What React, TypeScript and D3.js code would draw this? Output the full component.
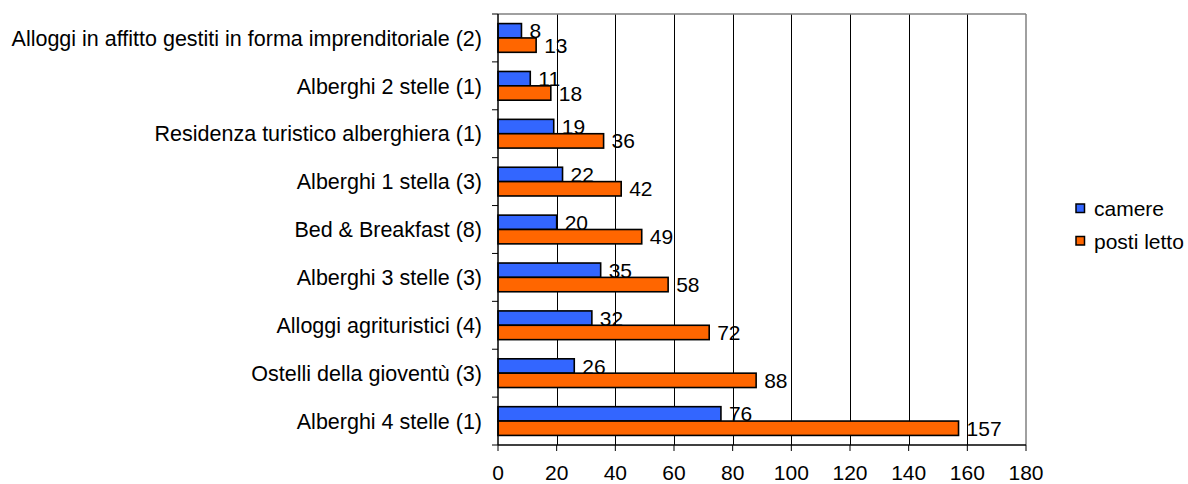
import React from "react";
import * as d3 from "d3";

const categories = [
  "Alloggi in affitto gestiti in forma imprenditoriale (2)",
  "Alberghi 2 stelle (1)",
  "Residenza turistico alberghiera (1)",
  "Alberghi 1 stella (3)",
  "Bed & Breakfast (8)",
  "Alberghi 3 stelle (3)",
  "Alloggi agrituristici (4)",
  "Ostelli della gioventù (3)",
  "Alberghi 4 stelle (1)",
];
const camere = [8, 11, 19, 22, 20, 35, 32, 26, 76];
const postiLetto = [13, 18, 36, 42, 49, 58, 72, 88, 157];
const seriesNames = ["camere", "posti letto"];
const seriesColors = ["#3366FF", "#FF6600"];
const xTicks = [0, 20, 40, 60, 80, 100, 120, 140, 160, 180];

const W = 1188;
const H = 484;
const left = 498;
const right = 1026;
const top = 14;
const bottom = 445;
const font = "'Liberation Sans', Arial, sans-serif";
const fs = 21;

export default function App() {
  const x = d3.scaleLinear().domain([0, 180]).range([left, right]);
  const y = d3
    .scaleBand<string>()
    .domain(categories)
    .range([top, bottom])
    .paddingInner(0.4)
    .paddingOuter(0.2);
  const sub = d3
    .scaleBand<string>()
    .domain(seriesNames)
    .range([0, y.bandwidth()])
    .padding(0);
  const step = y.step();
  const series = [camere, postiLetto];

  return (
    <svg
      width={W}
      height={H}
      style={{ position: "absolute", left: 0, top: 0, background: "#fff" }}
      fontFamily={font}
    >
      {/* gridlines */}
      {xTicks.slice(1, -1).map((t) => (
        <line key={"g" + t} x1={Math.round(x(t)) + 0.5} x2={Math.round(x(t)) + 0.5} y1={top} y2={bottom} stroke="#000" strokeWidth={1} />
      ))}
      {/* plot border top & right */}
      <line x1={left} x2={right} y1={top} y2={top} stroke="#808080" strokeWidth={1.5} />
      <line x1={right} x2={right} y1={top} y2={bottom} stroke="#808080" strokeWidth={1.5} />
      {/* bars */}
      {categories.map((c, i) =>
        series.map((s, k) => {
          const by = (y(c) as number) + (sub(seriesNames[k]) as number);
          const bh = sub.bandwidth();
          return (
            <g key={c + k}>
              <rect
                x={x(0)}
                y={by}
                width={x(s[i]) - x(0)}
                height={bh}
                fill={seriesColors[k]}
                stroke="#000"
                strokeWidth={1.6}
              />
              <text
                x={x(s[i]) + 8}
                y={by + bh / 2}
                dy="0.36em"
                fontSize={fs}
                fill="#000"
              >
                {s[i]}
              </text>
            </g>
          );
        })
      )}
      {/* left axis */}
      <line x1={left} x2={left} y1={top} y2={bottom} stroke="#000" strokeWidth={1.5} />
      {d3.range(categories.length + 1).map((j) => {
        const yy = top + j * step;
        return <line key={"lt" + j} x1={left - 6} x2={left} y1={yy} y2={yy} stroke="#000" strokeWidth={1} />;
      })}
      {categories.map((c) => (
        <text
          key={"cl" + c}
          x={left - 16}
          y={(y(c) as number) + y.bandwidth() / 2}
          dy="0.36em"
          textAnchor="end"
          fontSize={21.5}
          fill="#000"
        >
          {c}
        </text>
      ))}
      {/* bottom axis */}
      <line x1={left} x2={right} y1={bottom} y2={bottom} stroke="#000" strokeWidth={1.5} />
      {xTicks.map((t) => (
        <g key={"bt" + t}>
          <line x1={x(t)} x2={x(t)} y1={bottom} y2={bottom + 6} stroke="#000" strokeWidth={1} />
          <text x={x(t)} y={472} dy="0.36em" textAnchor="middle" fontSize={fs} fill="#000">
            {t}
          </text>
        </g>
      ))}
      {/* legend */}
      {seriesNames.map((n, k) => (
        <g key={"lg" + n}>
          <rect
            x={1076}
            y={204 + k * 32.5}
            width={8.5}
            height={8.5}
            fill={seriesColors[k]}
            stroke="#000"
            strokeWidth={1.5}
          />
          <text x={1094} y={208.5 + k * 32.5} dy="0.36em" fontSize={fs} fill="#000">
            {n}
          </text>
        </g>
      ))}
    </svg>
  );
}
